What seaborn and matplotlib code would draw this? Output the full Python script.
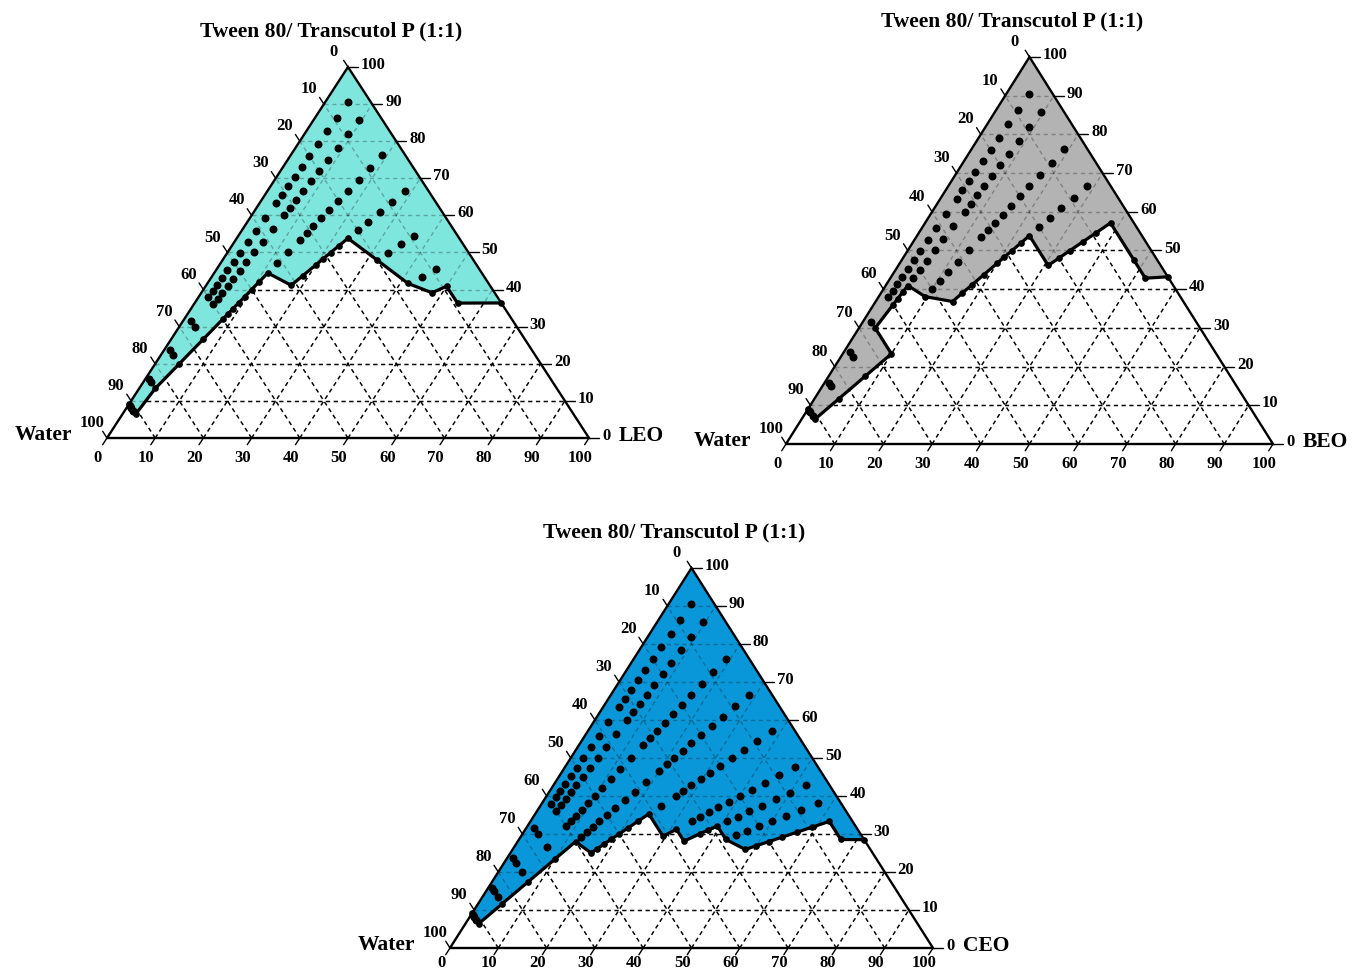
import matplotlib
matplotlib.use('Agg')
import matplotlib.pyplot as plt
import numpy as np
import pandas as pd
import seaborn as sns

sns.set_theme(style="white")
plt.rcParams['font.family'] = ['Liberation Serif', 'DejaVu Serif']

FIG_W, FIG_H = 1352, 972
TITLE = "Tween 80/ Transcutol P (1:1)"
TICKS = [0, 10, 20, 30, 40, 50, 60, 70, 80, 90, 100]

# water % of the points along each dilution line
WATER_STEPS = [4.8, 9.1, 13.0, 16.7, 20.0, 23.1, 25.9, 28.6, 31.0, 33.3, 37.5, 41.2,
               44.4, 47.4, 50.0, 52.4, 54.5, 56.5, 58.3, 60.0, 66.7, 75.0, 83.3, 90.9]

# dilution lines: oil share (%) of the Smix/oil blend, water % of the clear points
LEO_RAYS = [5, 10, 20, 30, 40, 50]
LEO_WATER = [
    WATER_STEPS,
    WATER_STEPS,
    [4.8, 9.1, 13.0, 16.7, 20.0, 23.1, 25.9, 28.6, 31.0, 33.3, 37.5, 41.2, 90.9],
    [4.8, 9.1, 13.0, 16.7, 20.0],
    [9.1, 13.0, 16.7],
    [9.1, 13.0],
]
# phase boundary, left edge -> right edge, as (oil share %, water %)
LEO_EDGE_RAY = [0, 30, 20, 20, 20, 20, 20, 20, 20, 20, 20, 20, 20,
                30, 30, 30, 30, 30, 30, 30, 40, 50, 55, 55, 60, 63.6]
LEO_EDGE_WATER = [90.9, 90.9, 83.3, 75.0, 66.7, 60.0, 58.3, 56.5, 54.5, 52.4, 50.0, 47.4, 44.4,
                  41.2, 37.5, 33.3, 31.0, 28.6, 25.9, 23.1, 20.0, 16.7, 13.0, 9.1, 9.1, 0]

BEO_RAYS = [5, 10, 20, 30]
BEO_WATER = [
    WATER_STEPS,
    [4.8, 9.1, 13.0, 16.7, 20.0, 23.1, 25.9, 28.6, 31.0, 33.3, 37.5, 41.2,
     44.4, 47.4, 50.0, 52.4, 75.0, 83.3, 90.9],
    [4.8, 9.1, 13.0, 16.7, 20.0, 23.1, 25.9, 28.6, 31.0, 33.3, 37.5, 41.2,
     44.4, 47.4, 50.0, 90.9],
    [4.8, 9.1, 13.0, 16.7, 20.0],
]
BEO_EDGE_RAY = [0, 30, 30, 30, 30, 10, 10, 10, 10, 10, 20,
                30, 30, 30, 30, 30, 30, 30, 30, 30,
                40, 40, 40, 40, 40, 40, 50, 55, 56.8]
BEO_EDGE_WATER = [90.9, 90.9, 83.3, 75.0, 66.7, 66.7, 60.0, 58.3, 56.5, 54.5, 52.4,
                  47.4, 44.4, 41.2, 37.5, 33.3, 31.0, 28.6, 25.9, 23.1,
                  23.1, 20.0, 16.7, 13.0, 9.1, 4.8, 4.8, 4.8, 0]

CEO_RAYS = [5, 10, 20, 30, 40, 50, 55, 60]
CEO_WATER = [
    WATER_STEPS,
    WATER_STEPS,
    WATER_STEPS,
    [4.8, 9.1, 13.0, 16.7, 20.0, 23.1, 25.9, 28.6, 31.0, 33.3, 37.5, 41.2,
     44.4, 47.4, 50.0, 52.4, 54.5, 56.5, 58.3],
    [4.8, 9.1, 13.0, 16.7, 20.0, 23.1, 25.9, 28.6, 31.0, 33.3, 37.5],
    [4.8, 9.1, 13.0, 16.7, 20.0, 23.1, 25.9, 28.6, 31.0, 33.3],
    [4.8, 9.1, 13.0, 16.7, 20.0, 23.1, 25.9],
    [4.8, 9.1, 13.0, 16.7, 20.0, 23.1, 25.9],
]
CEO_EDGE_RAY = [0, 30, 30, 30, 30, 30, 40, 40, 40, 40, 40, 40, 40, 40,
                50, 50, 55, 55, 55, 55, 60, 65, 65, 65, 65, 65, 65, 65, 70, 71.5]
CEO_EDGE_WATER = [90.9, 90.9, 83.3, 75.0, 66.7, 60.0, 58.3, 56.5, 54.5, 52.4, 50.0, 47.4, 44.4, 41.2,
                  41.2, 37.5, 37.5, 33.3, 31.0, 28.6, 28.6, 25.9, 23.1, 20.0, 16.7, 13.0, 9.1, 4.8, 4.8, 0]

PANELS = [
    dict(oil="LEO", color="#7fe6de", box=(107, 438, 589, 67), bottom_pad=20,
         rays=LEO_RAYS, water=LEO_WATER, edge=(LEO_EDGE_RAY, LEO_EDGE_WATER)),
    dict(oil="BEO", color="#b3b3b3", box=(786, 444, 1273, 57), bottom_pad=20,
         rays=BEO_RAYS, water=BEO_WATER, edge=(BEO_EDGE_RAY, BEO_EDGE_WATER)),
    dict(oil="CEO", color="#0a97d9", box=(450, 948, 933, 568), bottom_pad=15,
         rays=CEO_RAYS, water=CEO_WATER, edge=(CEO_EDGE_RAY, CEO_EDGE_WATER)),
]

TXT = dict(fontweight='bold', color='black')


def to_xy(oil, smix):
    oil = np.asarray(oil, dtype=float)
    smix = np.asarray(smix, dtype=float)
    return (oil + smix / 2) / 100, smix / 100


def on_ray(ratio, water):
    ratio = np.asarray(ratio, dtype=float)
    water = np.asarray(water, dtype=float)
    rest = 100 - water
    return to_xy(ratio * rest / 100, (100 - ratio) * rest / 100)


def grid_lines(ax, **kw):
    lines = []
    for v in np.arange(0.1, 1.0, 0.1):
        lines += ax.plot([v / 2, 1 - v / 2], [v, v], **kw)
        lines += ax.plot([v, (1 + v) / 2], [0, 1 - v], **kw)
        lines += ax.plot([1 - v, (1 - v) / 2], [0, 1 - v], **kw)
    return lines


def draw_panel(fig, p):
    x0, y0, x1, ytop = p['box']
    W, H = x1 - x0, y0 - ytop
    ax = fig.add_axes([x0 / FIG_W, 1 - y0 / FIG_H, W / FIG_W, H / FIG_H])
    ax.set_xlim(0, 1)
    ax.set_ylim(0, 1)
    ax.axis('off')

    dash = dict(ls=(0, (3, 2.6)), lw=1.0, clip_on=False)
    grid_lines(ax, color='black', zorder=1, **dash)

    ex, ey = on_ray(*p['edge'])
    poly_x = np.append(ex, 0.5)
    poly_y = np.append(ey, 1.0)
    patch = ax.fill(poly_x, poly_y, color=p['color'], lw=0, zorder=2)[0]
    for ln in grid_lines(ax, color='black', alpha=0.28, zorder=3, **dash):
        ln.set_clip_path(patch)

    rows = []
    for r, ws in zip(p['rays'], p['water']):
        x, y = on_ray(r, ws)
        rows += list(zip(x, y))
    dots = pd.DataFrame(rows, columns=['x', 'y'])
    sns.scatterplot(data=dots, x='x', y='y', ax=ax, color='black', s=33,
                    linewidth=0, zorder=5, legend=False)
    ax.plot(ex, ey, color='black', lw=2.3, marker='o', ms=3.8, zorder=5,
            solid_joinstyle='round')

    ax.plot([0, 1, 0.5, 0], [0, 0, 1, 0], color='black', lw=1.7, zorder=6,
            clip_on=False, solid_joinstyle='miter')

    # tick directions in pixel space
    up = np.array([0.5 * W, H]); up /= np.hypot(*up)
    ul = np.array([-0.5 * W, H]); ul /= np.hypot(*ul)
    tl = 8
    for v in TICKS:
        f = v / 100
        # bottom axis (oil)
        ax.plot([f, f - up[0] * tl / W], [0, -up[1] * tl / H], color='black', lw=1,
                clip_on=False, zorder=6)
        ax.annotate(str(v), (f, 0), xytext=(-9, -p['bottom_pad']), textcoords='offset pixels',
                    ha='center', va='center', fontsize=12, **TXT)
        # left axis (water)
        s = 1 - f
        ax.plot([s / 2, s / 2 + ul[0] * tl / W], [s, s + ul[1] * tl / H], color='black',
                lw=1, clip_on=False, zorder=6)
        ax.annotate(str(v), (s / 2, s), xytext=(-15, 15), textcoords='offset pixels',
                    ha='center', va='center', fontsize=12, **TXT)
        # right axis (surfactant/cosurfactant)
        ax.plot([1 - f / 2, 1 - f / 2 + 10 / W], [f, f], color='black', lw=1,
                clip_on=False, zorder=6)
        ax.annotate(str(v), (1 - f / 2, f), xytext=(13, 2), textcoords='offset pixels',
                    ha='left', va='center', fontsize=12, **TXT)

    ax.annotate(TITLE, (0.5, 1), xytext=(-17, 36), textcoords='offset pixels',
                ha='center', va='center', fontsize=15.5, **TXT)
    ax.annotate("Water", (0, 0), xytext=(-35, 3), textcoords='offset pixels',
                ha='right', va='center', fontsize=15.5, **TXT)
    ax.annotate(p['oil'], (1, 0), xytext=(30, 2), textcoords='offset pixels',
                ha='left', va='center', fontsize=15.5, **TXT)
    return ax


fig = plt.figure(figsize=(FIG_W / 100, FIG_H / 100), dpi=100)
fig.patch.set_facecolor('white')
for panel in PANELS:
    draw_panel(fig, panel)

fig.savefig("out.png", dpi=100)
plt.close(fig)
